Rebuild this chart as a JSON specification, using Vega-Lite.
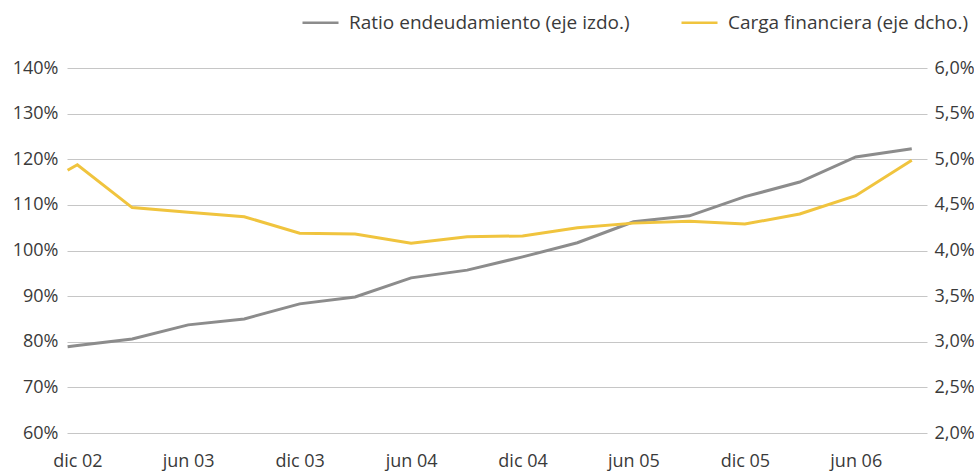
{
  "$schema": "https://vega.github.io/schema/vega-lite/v6.json",
  "autosize": "none",
  "width": 860,
  "height": 365,
  "padding": {"left": 67, "top": 68, "right": 47, "bottom": 39},
  "background": "white",
  "config": {
    "font": "Open Sans",
    "view": {"stroke": null},
    "axis": {"labelFont": "Open Sans", "labelFontSize": 18, "labelColor": "#3a3a3a", "ticks": false, "domain": false, "title": null},
    "legend": {"labelFont": "Open Sans", "labelFontSize": 19, "labelColor": "#3a3a3a", "labelLimit": 0}
  },
  "data": {
    "values": [
      {"fecha": "2002-11-15", "ratio": 78.9, "carga": 4.88},
      {"fecha": "2002-12-01", "ratio": 79.2, "carga": 4.94},
      {"fecha": "2003-03-01", "ratio": 80.6, "carga": 4.47},
      {"fecha": "2003-06-01", "ratio": 83.7, "carga": 4.42},
      {"fecha": "2003-09-01", "ratio": 85.0, "carga": 4.37},
      {"fecha": "2003-12-01", "ratio": 88.3, "carga": 4.19},
      {"fecha": "2004-03-01", "ratio": 89.8, "carga": 4.18},
      {"fecha": "2004-06-01", "ratio": 94.0, "carga": 4.08},
      {"fecha": "2004-09-01", "ratio": 95.7, "carga": 4.15},
      {"fecha": "2004-12-01", "ratio": 98.6, "carga": 4.16},
      {"fecha": "2005-03-01", "ratio": 101.7, "carga": 4.25},
      {"fecha": "2005-06-01", "ratio": 106.3, "carga": 4.30},
      {"fecha": "2005-09-01", "ratio": 107.6, "carga": 4.32},
      {"fecha": "2005-12-01", "ratio": 111.8, "carga": 4.29},
      {"fecha": "2006-03-01", "ratio": 115.0, "carga": 4.40},
      {"fecha": "2006-06-01", "ratio": 120.5, "carga": 4.60},
      {"fecha": "2006-09-01", "ratio": 122.3, "carga": 4.99}
    ]
  },
  "encoding": {
    "x": {
      "field": "fecha",
      "type": "temporal",
      "scale": {"type": "utc", "domain": [{"year": 2002, "month": 11, "date": 14, "utc": true}, {"year": 2006, "month": 9, "date": 26, "utc": true}]},
      "axis": {
        "grid": false,
        "labelPadding": 19,
        "labelAngle": 0,
        "values": [
          {"year": 2002, "month": 12, "date": 1, "utc": true},
          {"year": 2003, "month": 6, "date": 1, "utc": true},
          {"year": 2003, "month": 12, "date": 1, "utc": true},
          {"year": 2004, "month": 6, "date": 1, "utc": true},
          {"year": 2004, "month": 12, "date": 1, "utc": true},
          {"year": 2005, "month": 6, "date": 1, "utc": true},
          {"year": 2005, "month": 12, "date": 1, "utc": true},
          {"year": 2006, "month": 6, "date": 1, "utc": true}
        ],
        "labelExpr": "(utcmonth(datum.value) == 11 ? 'dic ' : 'jun ') + utcFormat(datum.value, '%y')",
        "labelFlush": false,
        "labelOverlap": false
      }
    }
  },
  "layer": [
    {
      "mark": {"type": "line", "strokeWidth": 3},
      "encoding": {
        "y": {
          "field": "ratio",
          "type": "quantitative",
          "scale": {"domain": [60, 140], "nice": false, "zero": false},
          "axis": {
            "orient": "left",
            "values": [60, 70, 80, 90, 100, 110, 120, 130, 140],
            "labelExpr": "datum.value + '%'",
            "grid": true,
            "gridColor": "#c6c6c6",
            "gridWidth": 1,
            "labelPadding": 9
          }
        },
        "color": {
          "datum": "Ratio endeudamiento (eje izdo.)",
          "type": "nominal",
          "scale": {
            "domain": ["Ratio endeudamiento (eje izdo.)", "Carga financiera (eje dcho.)"],
            "range": ["#8c8c8c", "#f0c43e"]
          },
          "legend": {
            "title": null,
            "orient": "none",
            "direction": "horizontal",
            "legendX": 234,
            "legendY": -65,
            "symbolType": "stroke",
            "symbolSize": 1296,
            "symbolStrokeWidth": 2.5,
            "labelOffset": 9,
            "columnPadding": 46,
            "labelLimit": 0
          }
        }
      }
    },
    {
      "mark": {"type": "line", "strokeWidth": 3},
      "encoding": {
        "y": {
          "field": "carga",
          "type": "quantitative",
          "scale": {"domain": [2, 6], "nice": false, "zero": false},
          "axis": {
            "orient": "right",
            "values": [2, 2.5, 3, 3.5, 4, 4.5, 5, 5.5, 6],
            "labelExpr": "replace(format(datum.value, '.1f'), '.', ',') + '%'",
            "grid": false,
            "labelPadding": 7
          }
        },
        "color": {"datum": "Carga financiera (eje dcho.)", "type": "nominal"}
      }
    }
  ],
  "resolve": {"scale": {"y": "independent"}}
}
